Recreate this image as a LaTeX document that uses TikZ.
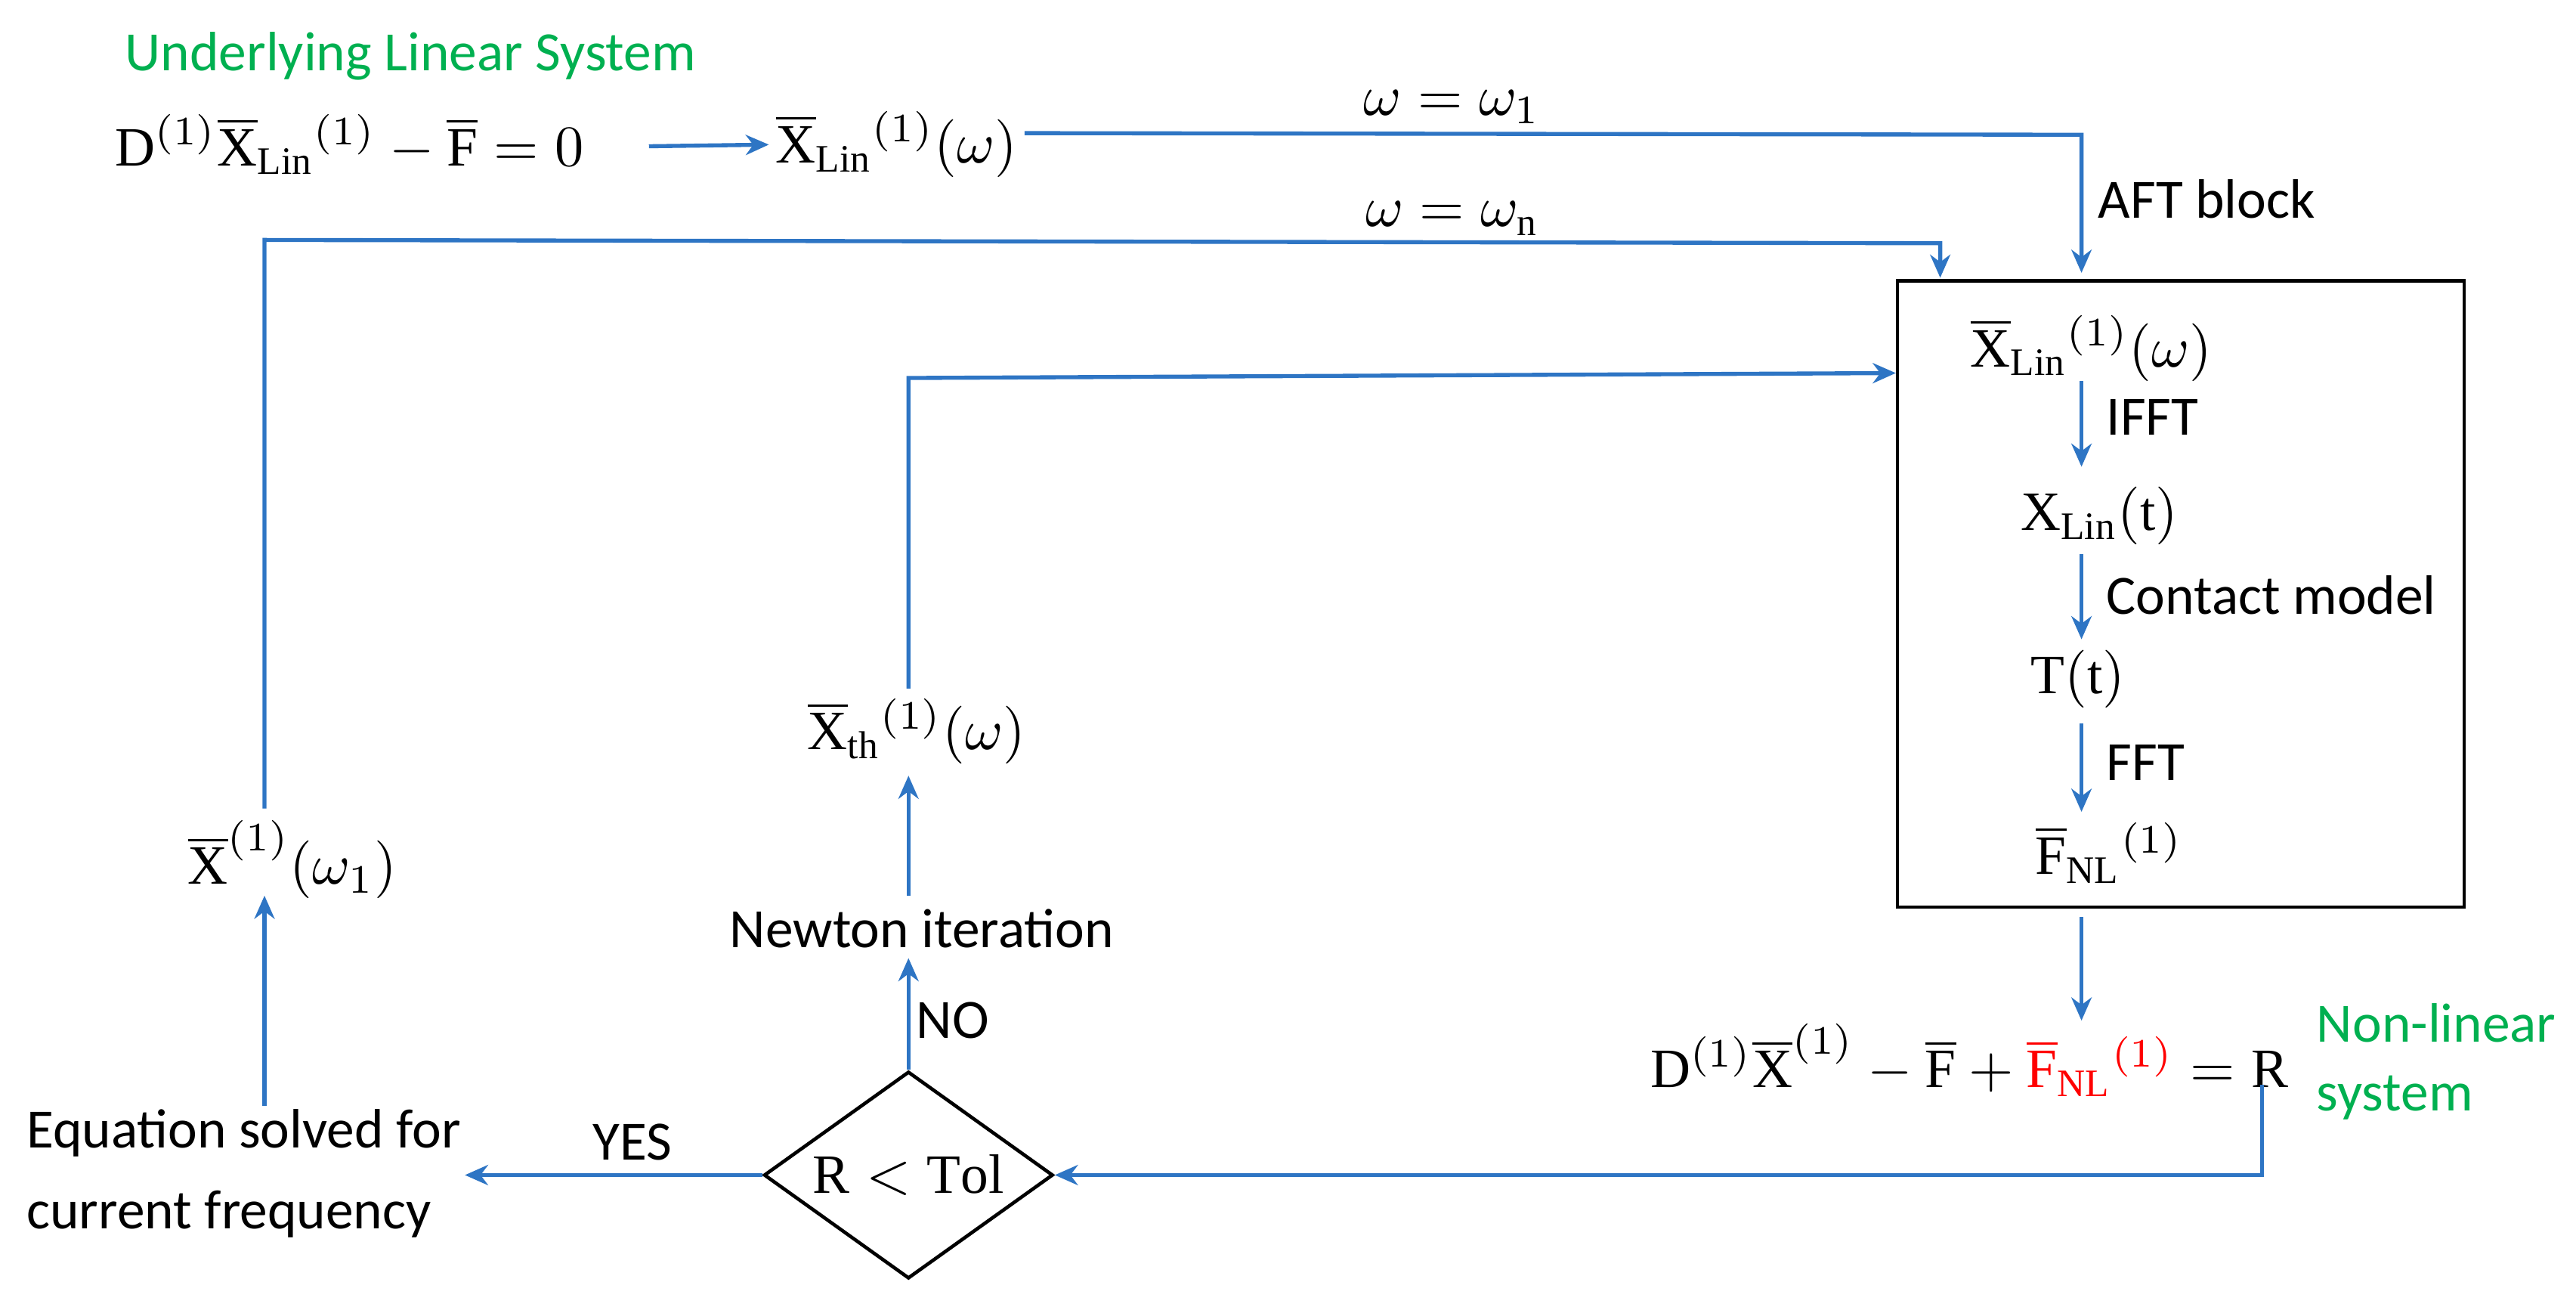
\documentclass[tikz,border=0pt]{standalone}
\usepackage{fontspec}
\setmainfont{Carlito}
\setmathrm{Liberation Serif}
\usetikzlibrary{shapes.geometric,arrows.meta}
\definecolor{lblue}{RGB}{46,117,196}
\definecolor{lgreen}{RGB}{0,176,80}
\newcommand{\ov}[1]{\overline{\mathrm{#1}}}
\begin{document}
\begin{tikzpicture}[x=0.01cm,y=-0.01cm,
  every node/.style={font=\fontsize{9.6}{11}\selectfont, inner sep=1pt},
  ln/.style={draw=lblue, line width=0.7pt},
  ar/.style={ln,-{Stealth[length=4pt,width=3.5pt]}},
  gr/.style={text=lgreen, font=\fontsize{9.6}{11}\selectfont}]
\useasboundingbox (0,0) rectangle (1568,797);
\node[gr,anchor=west] (ul) at (72,34) {Underlying Linear System};
\node[anchor=west] (e1) at (66,88) {$\mathrm{D}^{(1)}\ov{X}_{\mathrm{Lin}}{}^{(1)}-\ov{F}=0$};
\node[anchor=west] (xl) at (468,88) {$\ov{X}_{\mathrm{Lin}}{}^{(1)}(\omega)$};
\draw[ar] (395,89) -- (xl.west);
\coordinate (c1) at (1267,82);
\draw[ar] (xl.east|-0,81) -- (c1) -- (1267,166);
\node (w1) at (884,65) {$\omega=\omega_1$};
\node[anchor=west] (aft) at (1273,121) {AFT block};
\node (box) [draw, line width=0.6pt, minimum width=345*0.01cm, minimum height=381*0.01cm, inner sep=0] at (1327.5,361.5) {};
\node (b1) at (1273,212) {$\ov{X}_{\mathrm{Lin}}{}^{(1)}(\omega)$};
\node (b2) at (1278,314) {$\mathrm{X}_{\mathrm{Lin}}(\mathrm{t})$};
\node (b3) at (1265,413) {$\mathrm{T(t)}$};
\node (b4) at (1284,519) {$\ov{F}_{\mathrm{NL}}{}^{(1)}$};
\draw[ar] (1267,232) -- (1267,284);
\draw[ar] (1267,337) -- (1267,389);
\draw[ar] (1267,440) -- (1267,494);
\node[anchor=west] at (1278,254) {IFFT};
\node[anchor=west] at (1278,362) {Contact model};
\node[anchor=west] at (1278,464) {FFT};
\draw[ar] (1267,558) -- (1267,621);
\node[anchor=east] (nl) at (1397,645) {$\mathrm{D}^{(1)}\ov{X}^{(1)}-\ov{F}+\textcolor{red}{\ov{F}_{\mathrm{NL}}{}^{(1)}}=\mathrm{R}$};
\node[gr,anchor=west,align=left] (nls) at (1406,646) {Non-linear\\[1pt]system};
\node[draw, diamond, aspect=1.4, minimum width=176*0.01cm, minimum height=126*0.01cm, inner sep=0, line width=0.6pt] (d) at (553,715) {$\mathrm{R<Tol}$};
\coordinate (c2) at (1377,715);
\draw[ar] (1377,660) -- (c2) -- (d.east);
\node[anchor=west,align=left] (eq) at (12,714) {Equation solved for\\[3pt]current frequency};
\draw[ar] (d.west) -- (283,715);
\node at (385,695) {YES};
\node (x1) at (178,523) {$\ov{X}^{(1)}(\omega_1)$};
\draw[ar] (161,673) -- (161,545);
\coordinate (c3) at (161,146);
\coordinate (c4) at (1181,148);
\draw[ar] (161,492) -- (c3) -- (c4) -- (1181,169);
\node (wn) at (884,133) {$\omega=\omega_\mathrm{n}$};
\node (nt) at (561,565) {Newton iteration};
\draw[ar] (d.north) -- (553,583);
\node at (580,621) {NO};
\node (xt) at (558,445) {$\ov{X}_{\mathrm{th}}{}^{(1)}(\omega)$};
\draw[ar] (553,545) -- (553,472);
\coordinate (c5) at (553,230);
\draw[ar] (553,419) -- (c5) -- (1154,227);
\end{tikzpicture}
\end{document}
